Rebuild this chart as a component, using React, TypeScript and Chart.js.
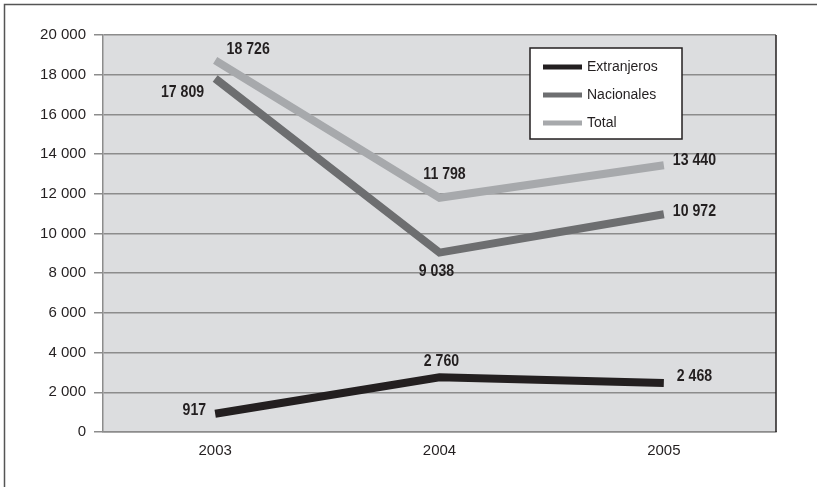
import React, { useEffect, useRef } from "react";
import { Chart, registerables } from "chart.js";

Chart.register(...registerables);

const years = ["2003", "2004", "2005"];
const extranjeros = [917, 2760, 2468];
const nacionales = [17809, 9038, 10972];
const total = [18726, 11798, 13440];
const seriesNames = ["Extranjeros", "Nacionales", "Total"];
const seriesColors = ["#231f20", "#6d6e70", "#a7a9ac"];
const yMin = 0;
const yMax = 20000;
const yStep = 2000;

// label placement per series / point: [dx, dy, align]
const labelPlacement: [number, number, CanvasTextAlign][][] = [
  [[-9, -3, "right"], [2, -16, "center"], [13, -7, "left"]],
  [[-11, 14, "right"], [-3, 19, "center"], [9, -3, "left"]],
  [[33, -11, "center"], [5, -23, "center"], [9, -5, "left"]],
];

const fmt = (n: number) => String(n).replace(/\B(?=(\d{3})+(?!\d))/g, " ");

const TEXT = "#231f20";
const GRID = "#8c8c8c";
const BASE_FONT = '"Liberation Sans", Arial, sans-serif';
const LABEL_FONT = 'bold 17px "Liberation Sans", Arial, sans-serif';
const LABEL_SQUEEZE = 0.83;

const decorPlugin = {
  id: "decor",
  beforeDraw(chart: any) {
    const { ctx, chartArea: a, width, height } = chart;
    ctx.save();
    ctx.fillStyle = "#ffffff";
    ctx.fillRect(0, 0, width, height);
    // outer frame (top + left)
    ctx.strokeStyle = "#555555";
    ctx.lineWidth = 1.5;
    ctx.beginPath();
    ctx.moveTo(4.5, height);
    ctx.lineTo(4.5, 4.5);
    ctx.lineTo(width, 4.5);
    ctx.stroke();
    // plot background
    ctx.fillStyle = "#dcdddf";
    ctx.fillRect(a.left, a.top, a.right - a.left, a.bottom - a.top);
    ctx.restore();
  },
  afterDraw(chart: any) {
    const { ctx, chartArea: a } = chart;
    ctx.save();
    // right border of plot
    ctx.strokeStyle = TEXT;
    ctx.lineWidth = 1.5;
    ctx.beginPath();
    ctx.moveTo(a.right, a.top);
    ctx.lineTo(a.right, a.bottom);
    ctx.stroke();

    // data labels (condensed bold)
    ctx.font = LABEL_FONT;
    ctx.fillStyle = TEXT;
    ctx.textBaseline = "middle";
    chart.data.datasets.forEach((ds: any, i: number) => {
      const meta = chart.getDatasetMeta(i);
      meta.data.forEach((pt: any, j: number) => {
        const [dx, dy, align] = labelPlacement[i][j];
        ctx.save();
        ctx.translate(pt.x + dx, pt.y + dy);
        ctx.scale(LABEL_SQUEEZE, 1);
        ctx.textAlign = align;
        ctx.fillText(fmt(ds.data[j]), 0, 0);
        ctx.restore();
      });
    });

    // legend box
    const bx = a.left + 427;
    const by = a.top + 13;
    const bw = 152;
    const bh = 91;
    ctx.fillStyle = "#ffffff";
    ctx.fillRect(bx, by, bw, bh);
    ctx.strokeStyle = TEXT;
    ctx.lineWidth = 1.5;
    ctx.strokeRect(bx, by, bw, bh);
    ctx.font = "14px " + BASE_FONT;
    ctx.textAlign = "left";
    ctx.textBaseline = "middle";
    chart.data.datasets.forEach((ds: any, i: number) => {
      const cy = by + 19 + i * 28;
      ctx.fillStyle = ds.borderColor;
      ctx.fillRect(bx + 13, cy - 2.5, 39, 5);
      ctx.fillStyle = TEXT;
      ctx.fillText(ds.label, bx + 57, cy);
    });
    ctx.restore();
  },
};

export default function App() {
  const ref = useRef<HTMLCanvasElement>(null);

  useEffect(() => {
    document.body.style.margin = "0";
    const seriesData = [extranjeros, nacionales, total];
    const chart = new Chart(ref.current as HTMLCanvasElement, {
      type: "line",
      data: {
        labels: years,
        datasets: seriesData.map((d, i) => ({
          label: seriesNames[i],
          data: d,
          borderColor: seriesColors[i],
          backgroundColor: seriesColors[i],
          borderWidth: 8,
          pointRadius: 0,
          pointHoverRadius: 0,
          tension: 0,
          fill: false,
          borderJoinStyle: "miter",
          borderCapStyle: "butt",
        })),
      },
      options: {
        animation: false,
        responsive: false,
        devicePixelRatio: 1,
        layout: { padding: { left: 0, top: 35, right: 41, bottom: 0 } },
        plugins: {
          legend: { display: false },
          tooltip: { enabled: false },
        },
        scales: {
          x: {
            type: "category",
            offset: true,
            grid: { display: false, drawTicks: false },
            border: { display: true, color: GRID, width: 1.5 },
            ticks: {
              color: TEXT,
              font: { size: 15, family: BASE_FONT },
              padding: 10,
              maxRotation: 0,
            },
            afterFit: (s: any) => {
              s.height = 55;
            },
          },
          y: {
            min: yMin,
            max: yMax,
            ticks: {
              stepSize: yStep,
              color: TEXT,
              font: { size: 15, family: BASE_FONT },
              padding: 8,
              callback: (v: any) => fmt(Number(v)),
            },
            grid: {
              color: GRID,
              lineWidth: 1.5,
              tickLength: 9,
              tickColor: GRID,
              tickWidth: 1.5,
            },
            border: { display: true, color: GRID, width: 1.5 },
            afterFit: (s: any) => {
              s.width = 103;
            },
          },
        },
      },
      plugins: [decorPlugin],
    });
    return () => chart.destroy();
  }, []);

  return (
    <div style={{ position: "absolute", left: 0, top: 0, width: 817, height: 487 }}>
      <canvas ref={ref} width={817} height={487} style={{ display: "block" }} />
    </div>
  );
}
